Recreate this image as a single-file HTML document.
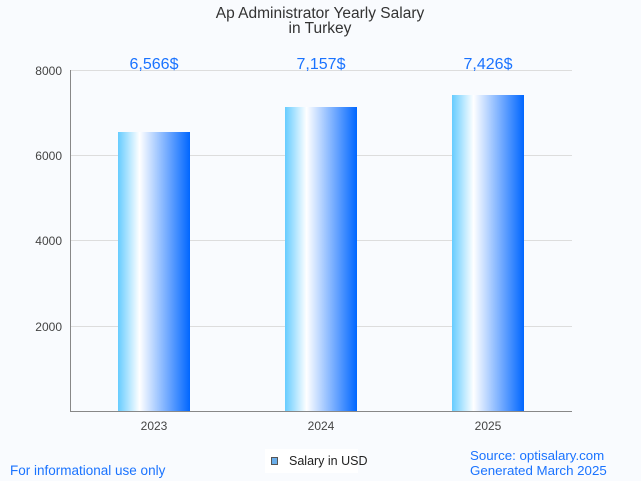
<!DOCTYPE html>
<html><head><style>body{margin:0;background:#f9fbfe;}svg{display:block;font-family:"Liberation Sans",sans-serif;}</style></head><body>
<svg width="641" height="481" viewBox="0 0 641 481">
<defs><linearGradient id="g" x1="0" x2="1" y1="0" y2="0">
<stop offset="0" stop-color="#66ccff"/><stop offset="0.3" stop-color="#ffffff"/><stop offset="1" stop-color="#0066ff"/></linearGradient></defs>
<rect width="641" height="481" fill="#f9fbfe"/>
<text x="320" y="18" font-size="15.5" fill="#333" text-anchor="middle">Ap Administrator Yearly Salary</text>
<text x="320" y="33" font-size="15.5" fill="#333" text-anchor="middle">in Turkey</text>
<g stroke="#dddddd" stroke-width="1">
<line x1="70" x2="572" y1="70.5" y2="70.5"/><line x1="70" x2="572" y1="155.5" y2="155.5"/><line x1="70" x2="572" y1="240.5" y2="240.5"/><line x1="70" x2="572" y1="326.5" y2="326.5"/></g>
<g font-size="12" fill="#444" text-anchor="end"><text x="62" y="75">8000</text><text x="62" y="160">6000</text><text x="62" y="245">4000</text><text x="62" y="331">2000</text></g>
<rect x="118" y="132" width="72" height="279" fill="url(#g)"/>
<rect x="285" y="107" width="72" height="304" fill="url(#g)"/>
<rect x="452" y="95" width="72" height="316" fill="url(#g)"/>
<line x1="70.5" x2="70.5" y1="70" y2="411" stroke="#888"/>
<line x1="70" x2="572" y1="411.5" y2="411.5" stroke="#888"/>
<g font-size="16" fill="#1a73ff" text-anchor="middle"><text x="154" y="69">6,566$</text><text x="321" y="69">7,157$</text><text x="488" y="69">7,426$</text></g>
<g font-size="12" fill="#444" text-anchor="middle"><text x="154" y="430">2023</text><text x="321" y="430">2024</text><text x="488" y="430">2025</text></g>
<rect x="265" y="449" width="93" height="24" fill="#fff"/>
<rect x="271.5" y="457.5" width="6" height="7" fill="#6aaeea" stroke="#555"/>
<text x="289" y="465" font-size="12.5" fill="#222">Salary in USD</text>
<text x="10" y="475" font-size="13.5" fill="#1a73ff">For informational use only</text>
<text x="470" y="460" font-size="13.3" fill="#1a73ff">Source: optisalary.com</text>
<text x="470" y="475" font-size="13.3" fill="#1a73ff">Generated March 2025</text>
</svg></body></html>
